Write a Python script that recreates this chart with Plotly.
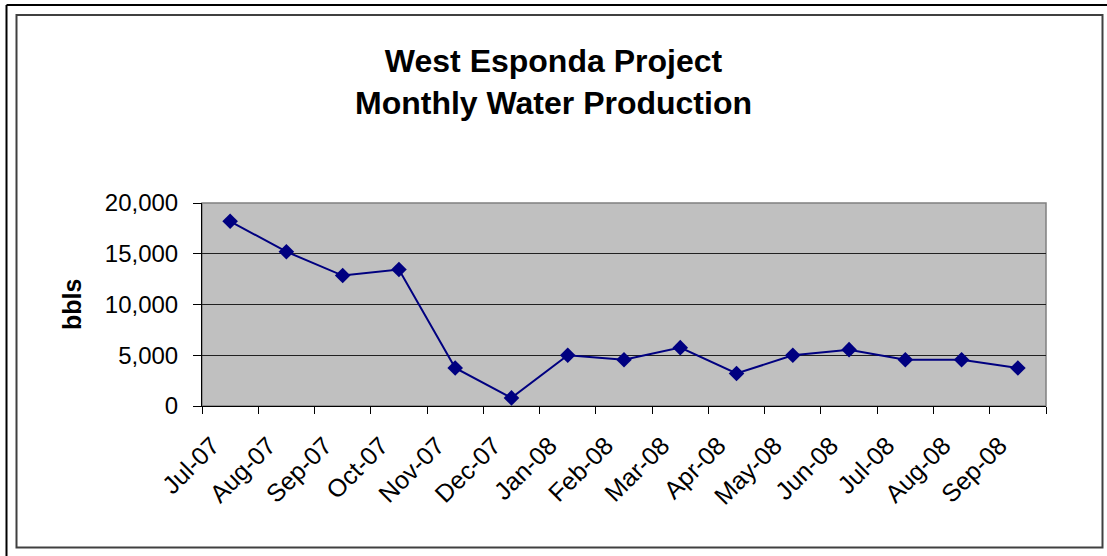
import plotly.graph_objects as go

months = ["Jul-07", "Aug-07", "Sep-07", "Oct-07", "Nov-07", "Dec-07", "Jan-08",
          "Feb-08", "Mar-08", "Apr-08", "May-08", "Jun-08", "Jul-08", "Aug-08", "Sep-08"]
water_bbls = [18200, 15200, 12850, 13450, 3750, 800, 5000,
              4550, 5750, 3200, 5000, 5550, 4550, 4550, 3750]
y_ticks = [0, 5000, 10000, 15000, 20000]

W, H = 1107, 556
L, R, T, B = 202, 61, 203, 150
PW, PH = W - L - R, H - T - B


def px_x(px):
    return (px - L) / PW


def px_y(py):
    return (H - B - py) / PH


fig = go.Figure()
fig.add_trace(go.Scatter(
    x=months, y=water_bbls, mode="lines+markers",
    line=dict(color="#000080", width=2),
    marker=dict(symbol="diamond", size=12, color="#000080"),
    showlegend=False,
))

font_family = "Liberation Sans, Arial, sans-serif"

fig.update_layout(
    width=W, height=H,
    margin=dict(l=L, r=R, t=T, b=B),
    paper_bgcolor="white",
    plot_bgcolor="#C0C0C0",
    font=dict(family=font_family, color="black", size=23),
    title=dict(
        text="<b>West Esponda Project<br>Monthly Water Production</b>",
        x=0.5, xref="container", xanchor="center",
        y=1 - 72 / H, yref="container", yanchor="middle",
        font=dict(size=32, family=font_family, color="black"),
    ),
    xaxis=dict(
        type="category", range=[-0.5, len(months) - 0.5],
        tickson="boundaries", ticks="outside", ticklen=7, tickcolor="black",
        tickangle=-45, showgrid=False, showline=True, linecolor="black",
        linewidth=1, tickfont=dict(size=25),
        ticklabelstandoff=14, ticklabelshift=-18,
    ),
    yaxis=dict(
        range=[0, 20000], tickvals=y_ticks, tickformat=",",
        ticks="outside", ticklen=8, tickcolor="black",
        showgrid=True, gridcolor="#202020", gridwidth=1,
        showline=True, linecolor="black", linewidth=1, zeroline=False,
        tickfont=dict(size=24), ticklabelstandoff=10,
    ),
    shapes=[
        dict(type="rect", xref="paper", yref="paper", x0=0, y0=0, x1=1, y1=1,
             line=dict(color="#808080", width=1.5), layer="below"),
        dict(type="rect", xref="paper", yref="paper",
             x0=px_x(16.5), y0=px_y(547.5), x1=px_x(1102.5), y1=px_y(15),
             line=dict(color="#404040", width=2)),
        dict(type="line", xref="paper", yref="paper",
             x0=px_x(6.5), y0=px_y(5), x1=px_x(1107), y1=px_y(5),
             line=dict(color="black", width=2)),
        dict(type="line", xref="paper", yref="paper",
             x0=px_x(6.5), y0=px_y(5), x1=px_x(6.5), y1=px_y(556),
             line=dict(color="black", width=2)),
    ],
    annotations=[
        dict(text="<b>bbls</b>", textangle=-90, xref="paper", yref="paper",
             x=px_x(72), y=px_y(305), xanchor="center", yanchor="middle",
             showarrow=False, font=dict(size=25, family=font_family, color="black")),
    ],
)

fig.write_html("out.html", config={"displayModeBar": False},
               post_script="document.body.style.margin='0px';")
